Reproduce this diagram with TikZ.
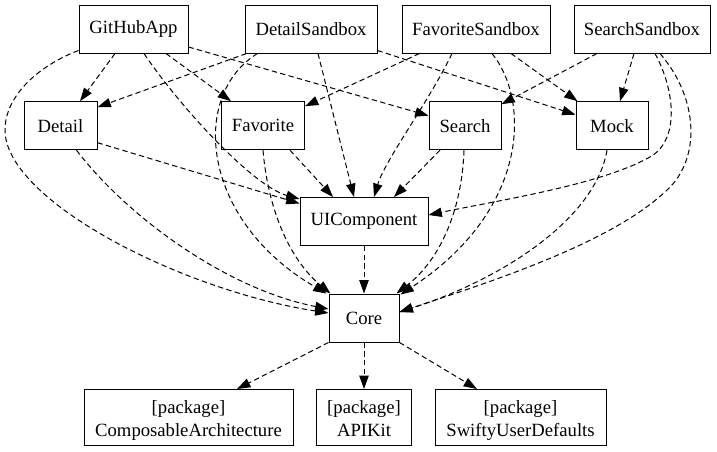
\documentclass[tikz,border=0pt]{standalone}
\usepackage{fontspec}
\setmainfont{Liberation Serif}
\usetikzlibrary{arrows.meta,calc}
\newcommand{\pkgtext}[1]{\raisebox{-5.75pt}[0pt][0pt]{\begin{tabular}{@{}c@{}}[package]\\#1\end{tabular}}}
\begin{document}
\begin{tikzpicture}[x=0.75pt,y=-0.75pt,
  box/.style={draw, line width=0.75pt, minimum height=36pt, inner sep=0pt, font=\fontsize{14pt}{17pt}\selectfont},
  pkg/.style={box, minimum height=42pt},
  dep/.style={draw, line width=0.75pt, dash pattern=on 4pt off 2.5pt, -{Triangle[length=10pt,width=7pt]}}]
\useasboundingbox (0,0) rectangle (717,451);
% top row
\node[box, minimum width=81.75pt] (gh) at (133.5,29) {GitHubApp};
\node[box, minimum width=99pt] (ds) at (311,29) {DetailSandbox};
\node[box, minimum width=111pt] (fs) at (476,29) {FavoriteSandbox};
\node[box, minimum width=102pt] (ss) at (642,29) {SearchSandbox};
% second row
\node[box, minimum width=54.75pt] (detail) at (60.5,125.7) {Detail};
\node[box, minimum width=62.25pt] (fav) at (263,125.7) {Favorite};
\node[box, minimum width=54pt] (search) at (465,125.7) {Search};
\node[box, minimum width=54pt] (mock) at (612,125.7) {Mock};
% middle
\node[box, minimum width=96pt] (ui) at (364,221.5) {UIComponent};
\node[box, minimum width=52.5pt] (core) at (364,318) {Core};
% packages
\node[pkg, minimum width=156.75pt] (ca) at (188.5,417.5) {\pkgtext{ComposableArchitecture}};
\node[pkg, minimum width=71.25pt] (api) at (364,417.5) {\pkgtext{APIKit}};
\node[pkg, minimum width=128.25pt] (sud) at (520.5,417.5) {\pkgtext{SwiftyUserDefaults}};
% GitHubApp
\draw[dep] ($(gh.south)+(-18.5,0)$) -- ($(detail.north)+(19.5,0)$);
\draw[dep] ($(gh.south)+(32.5,0)$) -- ($(fav.north)+(-32,0)$);
\draw[dep] ($(gh.east)+(0,18)$) -- ($(search.west)+(0,-10)$);
\draw[dep] ($(gh.south)+(10.5,0)$) .. controls (175,100) and (250,185) .. ($(ui.north west)+(0,2)$);
\draw[dep] ($(gh.south west)+(0,-3)$) .. controls (40,65) and (5,95) .. (5,130) .. controls (5,200) and (180,290) .. ($(core.west)+(0,-5)$);
% DetailSandbox
\draw[dep] ($(ds.south west)+(2,0)$) -- ($(detail.north east)+(0,6)$);
\draw[dep] ($(ds.south west)+(13,0)$) .. controls (190,95) and (200,220) .. ($(core.north west)+(-2,0)$);
\draw[dep] ($(ds.south)+(7,0)$) -- ($(ui.north)+(-10,0)$);
\draw[dep] ($(ds.south east)+(0,-3)$) -- ($(mock.west)+(0,-11)$);
% FavoriteSandbox
\draw[dep] ($(fs.south west)+(18,0)$) -- ($(fav.north east)+(0,5)$);
\draw[dep] ($(fs.south)+(-24,0)$) .. controls (430,100) and (385,160) .. ($(ui.north)+(10,0)$);
\draw[dep] ($(fs.south)+(16,0)$) .. controls (530,100) and (530,210) .. ($(core.north east)+(1,1)$);
\draw[dep] ($(fs.south)+(35,0)$) -- ($(mock.north west)+(2,0)$);
% SearchSandbox
\draw[dep] ($(ss.south)+(-45,0)$) -- ($(search.north east)+(0,3)$);
\draw[dep] ($(ss.south)+(-8,0)$) -- ($(mock.north)+(8,0)$);
\draw[dep] ($(ss.south)+(13,0)$) .. controls (675,90) and (680,140) .. (650,157) .. controls (600,185) and (500,200) .. ($(ui.east)+(0,-6.5)$);
\draw[dep] ($(ss.south)+(18,0)$) .. controls (700,100) and (700,160) .. (667,190) .. controls (610,245) and (480,285) .. ($(core.east)+(0,-6)$);
% Detail
\draw[dep] ($(detail.east)+(0,17)$) -- ($(ui.west)+(0,-18)$);
\draw[dep] ($(detail.south)+(16,0)$) .. controls (130,220) and (230,290) .. ($(core.west)+(0,-9)$);
% Favorite
\draw[dep] ($(fav.south)+(27,0)$) -- ($(ui.north)+(-31,0)$);
\draw[dep] (fav.south) .. controls (268,210) and (290,260) .. ($(core.north west)+(2,0)$);
% Search
\draw[dep] ($(search.south)+(-25,0)$) -- ($(ui.north)+(30,0)$);
\draw[dep] ($(search.south)+(-1,0)$) .. controls (462,210) and (440,260) .. ($(core.north east)+(-3,0)$);
% Mock
\draw[dep] ($(mock.south)+(-5,0)$) .. controls (595,220) and (500,280) .. ($(core.east)+(0,-6)$);
% UIComponent, Core
\draw[dep] (ui.south) -- (core.north);
\draw[dep] (core.south west) -- ($(ca.north)+(48.5,0)$);
\draw[dep] (core.south) -- (api.north);
\draw[dep] (core.south east) -- ($(sud.north)+(-43.5,0)$);
\end{tikzpicture}
\end{document}
